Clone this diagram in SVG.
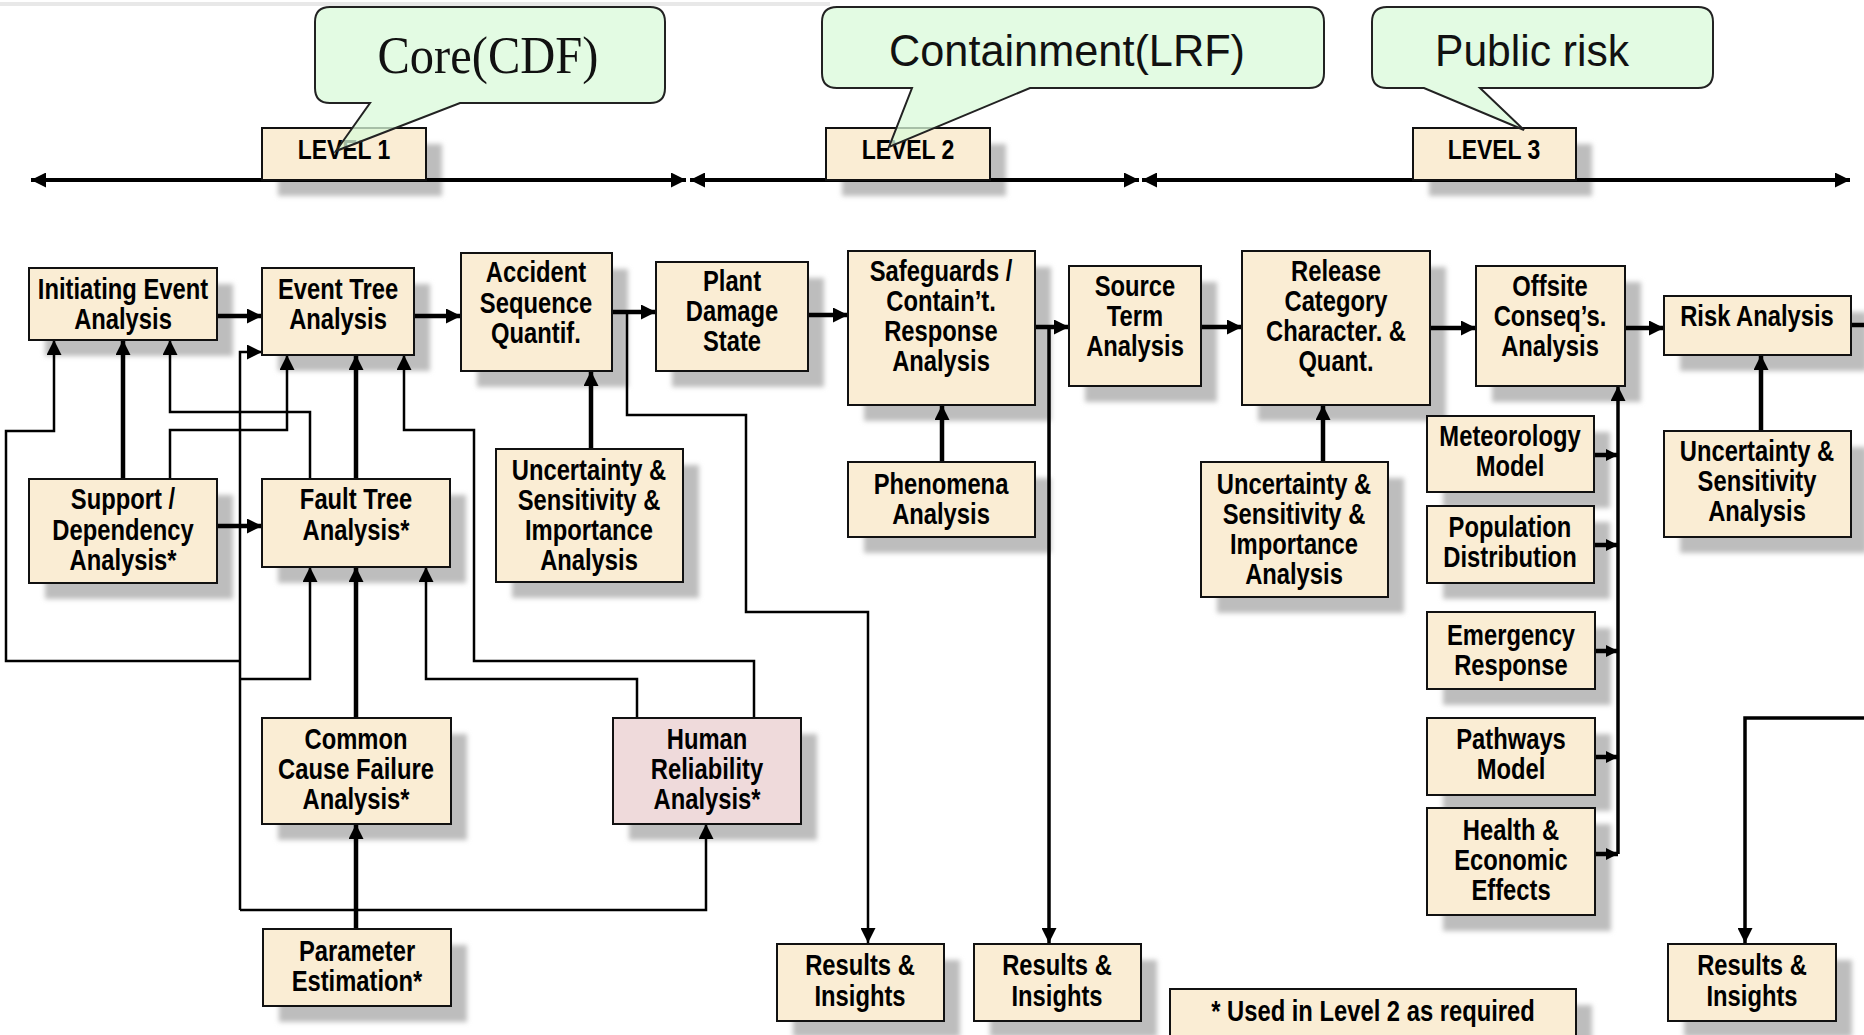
<svg xmlns="http://www.w3.org/2000/svg" width="1864" height="1035" viewBox="0 0 1864 1035">
<defs>
<filter id="blur" x="-10%" y="-10%" width="120%" height="120%"><feGaussianBlur stdDeviation="2.5"/></filter>
<marker id="ah" viewBox="0 0 10 10" refX="10" refY="5" markerUnits="userSpaceOnUse" markerWidth="15" markerHeight="15" orient="auto-start-reverse"><path d="M0,0 L10,5 L0,10 Z" fill="#000"/></marker>
<marker id="ahs" viewBox="0 0 10 10" refX="10" refY="5" markerUnits="userSpaceOnUse" markerWidth="12" markerHeight="13" orient="auto"><path d="M0,0 L10,5 L0,10 Z" fill="#000"/></marker>
</defs>
<style>
.box{fill:#faedd4;stroke:#111;stroke-width:2}
.hra{fill:#efdadb}
.sh{fill:#bdbdbd;filter:url(#blur)}
.t{font-family:'Liberation Sans',Arial,sans-serif;font-weight:bold;font-size:29px;fill:#000;text-anchor:middle}
.lv{font-size:28px}
.thick{fill:none;stroke:#000;stroke-width:4.5}
.med{fill:none;stroke:#000;stroke-width:3.5}
.thin{fill:none;stroke:#000;stroke-width:2.5}
.arr{marker-end:url(#ah)}
.arrs{marker-end:url(#ahs)}
.dbl{marker-start:url(#ah);marker-end:url(#ah)}
.call{fill:#d9f9d9;fill-opacity:0.75;stroke:#222;stroke-width:2}
.ct{font-family:'Liberation Sans',Arial,sans-serif;font-size:44px;fill:#111;text-anchor:middle}
.cs{font-family:'Liberation Serif','Times New Roman',serif;font-size:52px;fill:#111;text-anchor:middle}
</style>
<rect x="0" y="0" width="1864" height="1035" fill="#fff"/>
<line x1="0" y1="4" x2="830" y2="4" stroke="#e8e8e8" stroke-width="4"/>

<g id="shadows">
<rect class="sh" x="278" y="144" width="164" height="52"/>
<rect class="sh" x="842" y="144" width="164" height="52"/>
<rect class="sh" x="1429" y="144" width="163" height="52"/>
<rect class="sh" x="45" y="284" width="188" height="72"/>
<rect class="sh" x="278" y="284" width="152" height="87"/>
<rect class="sh" x="477" y="269" width="151" height="118"/>
<rect class="sh" x="672" y="278" width="152" height="109"/>
<rect class="sh" x="864" y="267" width="187" height="154"/>
<rect class="sh" x="1085" y="282" width="132" height="120"/>
<rect class="sh" x="1258" y="267" width="188" height="154"/>
<rect class="sh" x="1492" y="282" width="149" height="120"/>
<rect class="sh" x="1680" y="312" width="187" height="59"/>
<rect class="sh" x="45" y="495" width="188" height="104"/>
<rect class="sh" x="278" y="495" width="188" height="88"/>
<rect class="sh" x="512" y="465" width="187" height="133"/>
<rect class="sh" x="864" y="478" width="187" height="75"/>
<rect class="sh" x="1217" y="478" width="187" height="135"/>
<rect class="sh" x="1443" y="432" width="167" height="76"/>
<rect class="sh" x="1443" y="522" width="167" height="77"/>
<rect class="sh" x="1443" y="628" width="168" height="77"/>
<rect class="sh" x="1443" y="734" width="168" height="77"/>
<rect class="sh" x="1443" y="824" width="168" height="107"/>
<rect class="sh" x="1680" y="447" width="187" height="106"/>
<rect class="sh" x="278" y="734" width="189" height="106"/>
<rect class="sh" x="629" y="734" width="188" height="106"/>
<rect class="sh" x="279" y="945" width="188" height="77"/>
<rect class="sh" x="793" y="960" width="167" height="77"/>
<rect class="sh" x="990" y="960" width="167" height="77"/>
<rect class="sh" x="1684" y="960" width="168" height="77"/>
<rect class="sh" x="1186" y="1005" width="406" height="50"/>
</g>

<g id="connectors">
<line class="dbl" x1="31" y1="180" x2="686" y2="180" stroke="#000" stroke-width="4"/>
<line class="dbl" x1="690" y1="180" x2="1139" y2="180" stroke="#000" stroke-width="4"/>
<line class="dbl" x1="1142" y1="180" x2="1850" y2="180" stroke="#000" stroke-width="4"/>

<path class="thick arr" d="M217,316 H262"/>
<path class="thick arr" d="M414,316 H461"/>
<path class="thick arr" d="M612,312 H656"/>
<path class="thick arr" d="M808,315 H848"/>
<path class="thick arr" d="M1035,327 H1069"/>
<path class="thick arr" d="M1201,327 H1242"/>
<path class="thick arr" d="M1430,328 H1476"/>
<path class="thick arr" d="M1625,328 H1664"/>
<path class="thick" d="M1851,325 H1864"/>
<path class="thick arr" d="M123,479 V340"/>
<path class="thick arr" d="M217,526 H262"/>
<path class="thick arr" d="M356,479 V355"/>
<path class="thick arr" d="M356,718 V567"/>
<path class="thick arr" d="M356,929 V824"/>
<path class="thick arr" d="M591,449 V371"/>
<path class="thick arr" d="M942,462 V405"/>
<path class="thick arr" d="M1323,462 V405"/>
<path class="thick arr" d="M1761,431 V355"/>

<path class="thin arr" d="M240,661 H6 V431 H54 V340"/>
<path class="thin arr" d="M310,479 V412 H170 V340"/>
<path class="thin arr" d="M170,479 V430 H287 V355"/>
<path class="thin arr" d="M754,718 V661 H474 V430 H404 V355"/>
<path class="thin arr" d="M240,910 V352 H262"/>
<path class="thin arr" d="M240,679 H310 V567"/>
<path class="thin arr" d="M240,910 H706 V824"/>
<path class="thin arr" d="M637,718 V679 H426 V567"/>
<path class="thin arr" d="M627,312 V415 H746 V612 H868 V943"/>
<path class="med arr" d="M1049,327 V943"/>
<path class="med arr" d="M1618,854 V386"/>
<path class="thick arrs" d="M1594,455 H1618"/>
<path class="thick arrs" d="M1594,545 H1618"/>
<path class="thick arrs" d="M1595,651 H1618"/>
<path class="thick arrs" d="M1595,757 H1618"/>
<path class="thick arrs" d="M1595,854 H1618"/>
<path class="med arr" d="M1864,718 H1745 V943"/>
</g>

<g id="level1"><rect class="box" x="262" y="128" width="164" height="52"/><text class="t lv" transform="matrix(.82 0 0 1 344 0)" x="0" y="159">LEVEL 1</text></g>
<g id="level2"><rect class="box" x="826" y="128" width="164" height="52"/><text class="t lv" transform="matrix(.82 0 0 1 908 0)" x="0" y="159">LEVEL 2</text></g>
<g id="level3"><rect class="box" x="1413" y="128" width="163" height="52"/><text class="t lv" transform="matrix(.82 0 0 1 1494 0)" x="0" y="159">LEVEL 3</text></g>

<g id="callout-core"><path class="call" d="M330,7 H650 Q665,7 665,22 V88 Q665,103 650,103 H460 L336,151 L370,103 H330 Q315,103 315,88 V22 Q315,7 330,7 Z"/><text class="cs" x="488" y="73" textLength="221" lengthAdjust="spacingAndGlyphs">Core(CDF)</text></g>
<g id="callout-containment"><path class="call" d="M837,7 H1309 Q1324,7 1324,22 V73 Q1324,88 1309,88 H1030 L889,147 L912,88 H837 Q822,88 822,73 V22 Q822,7 837,7 Z"/><text class="ct" x="1067" y="66" textLength="356" lengthAdjust="spacingAndGlyphs">Containment(LRF)</text></g>
<g id="callout-public"><path class="call" d="M1387,7 H1698 Q1713,7 1713,22 V73 Q1713,88 1698,88 H1480 L1524,130 L1424,88 H1387 Q1372,88 1372,73 V22 Q1372,7 1387,7 Z"/><text class="ct" x="1532" y="66" textLength="194" lengthAdjust="spacingAndGlyphs">Public risk</text></g>

<g id="n-ie"><rect class="box" x="29" y="268" width="188" height="72"/><text class="t" transform="matrix(.82 0 0 1 123 0)"><tspan x="0" y="299">Initiating Event</tspan><tspan x="0" y="329">Analysis</tspan></text></g>
<g id="n-et"><rect class="box" x="262" y="268" width="152" height="87"/><text class="t" transform="matrix(.82 0 0 1 338 0)"><tspan x="0" y="299">Event Tree</tspan><tspan x="0" y="329">Analysis</tspan></text></g>
<g id="n-as"><rect class="box" x="461" y="253" width="151" height="118"/><text class="t" transform="matrix(.82 0 0 1 536 0)"><tspan x="0" y="282">Accident</tspan><tspan x="0" y="313">Sequence</tspan><tspan x="0" y="343">Quantif.</tspan></text></g>
<g id="n-pds"><rect class="box" x="656" y="262" width="152" height="109"/><text class="t" transform="matrix(.82 0 0 1 732 0)"><tspan x="0" y="291">Plant</tspan><tspan x="0" y="321">Damage</tspan><tspan x="0" y="351">State</tspan></text></g>
<g id="n-sg"><rect class="box" x="848" y="251" width="187" height="154"/><text class="t" transform="matrix(.82 0 0 1 941 0)"><tspan x="0" y="281">Safeguards /</tspan><tspan x="0" y="311">Contain’t.</tspan><tspan x="0" y="341">Response</tspan><tspan x="0" y="371">Analysis</tspan></text></g>
<g id="n-st"><rect class="box" x="1069" y="266" width="132" height="120"/><text class="t" transform="matrix(.82 0 0 1 1135 0)"><tspan x="0" y="296">Source</tspan><tspan x="0" y="326">Term</tspan><tspan x="0" y="356">Analysis</tspan></text></g>
<g id="n-rc"><rect class="box" x="1242" y="251" width="188" height="154"/><text class="t" transform="matrix(.82 0 0 1 1336 0)"><tspan x="0" y="281">Release</tspan><tspan x="0" y="311">Category</tspan><tspan x="0" y="341">Character. &amp;</tspan><tspan x="0" y="371">Quant.</tspan></text></g>
<g id="n-oc"><rect class="box" x="1476" y="266" width="149" height="120"/><text class="t" transform="matrix(.82 0 0 1 1550 0)"><tspan x="0" y="296">Offsite</tspan><tspan x="0" y="326">Conseq’s.</tspan><tspan x="0" y="356">Analysis</tspan></text></g>
<g id="n-ra"><rect class="box" x="1664" y="296" width="187" height="59"/><text class="t" transform="matrix(.82 0 0 1 1757 0)" x="0" y="326">Risk Analysis</text></g>
<g id="n-sd"><rect class="box" x="29" y="479" width="188" height="104"/><text class="t" transform="matrix(.82 0 0 1 123 0)"><tspan x="0" y="509">Support /</tspan><tspan x="0" y="540">Dependency</tspan><tspan x="0" y="570">Analysis*</tspan></text></g>
<g id="n-ft"><rect class="box" x="262" y="479" width="188" height="88"/><text class="t" transform="matrix(.82 0 0 1 356 0)"><tspan x="0" y="509">Fault Tree</tspan><tspan x="0" y="540">Analysis*</tspan></text></g>
<g id="n-asu"><rect class="box" x="496" y="449" width="187" height="133"/><text class="t" transform="matrix(.82 0 0 1 589 0)"><tspan x="0" y="480">Uncertainty &amp;</tspan><tspan x="0" y="510">Sensitivity  &amp;</tspan><tspan x="0" y="540">Importance</tspan><tspan x="0" y="570">Analysis</tspan></text></g>
<g id="n-ph"><rect class="box" x="848" y="462" width="187" height="75"/><text class="t" transform="matrix(.82 0 0 1 941 0)"><tspan x="0" y="494">Phenomena</tspan><tspan x="0" y="524">Analysis</tspan></text></g>
<g id="n-rcu"><rect class="box" x="1201" y="462" width="187" height="135"/><text class="t" transform="matrix(.82 0 0 1 1294 0)"><tspan x="0" y="494">Uncertainty &amp;</tspan><tspan x="0" y="524">Sensitivity  &amp;</tspan><tspan x="0" y="554">Importance</tspan><tspan x="0" y="584">Analysis</tspan></text></g>
<g id="n-met"><rect class="box" x="1427" y="416" width="167" height="76"/><text class="t" transform="matrix(.82 0 0 1 1510 0)"><tspan x="0" y="446">Meteorology</tspan><tspan x="0" y="476">Model</tspan></text></g>
<g id="n-pop"><rect class="box" x="1427" y="506" width="167" height="77"/><text class="t" transform="matrix(.82 0 0 1 1510 0)"><tspan x="0" y="537">Population</tspan><tspan x="0" y="567">Distribution</tspan></text></g>
<g id="n-emr"><rect class="box" x="1427" y="612" width="168" height="77"/><text class="t" transform="matrix(.82 0 0 1 1511 0)"><tspan x="0" y="645">Emergency</tspan><tspan x="0" y="675">Response</tspan></text></g>
<g id="n-path"><rect class="box" x="1427" y="718" width="168" height="77"/><text class="t" transform="matrix(.82 0 0 1 1511 0)"><tspan x="0" y="749">Pathways</tspan><tspan x="0" y="779">Model</tspan></text></g>
<g id="n-hee"><rect class="box" x="1427" y="808" width="168" height="107"/><text class="t" transform="matrix(.82 0 0 1 1511 0)"><tspan x="0" y="840">Health &amp;</tspan><tspan x="0" y="870">Economic</tspan><tspan x="0" y="900">Effects</tspan></text></g>
<g id="n-rau"><rect class="box" x="1664" y="431" width="187" height="106"/><text class="t" transform="matrix(.82 0 0 1 1757 0)"><tspan x="0" y="461">Uncertainty &amp;</tspan><tspan x="0" y="491">Sensitivity</tspan><tspan x="0" y="521">Analysis</tspan></text></g>
<g id="n-ccf"><rect class="box" x="262" y="718" width="189" height="106"/><text class="t" transform="matrix(.82 0 0 1 356 0)"><tspan x="0" y="749">Common</tspan><tspan x="0" y="779">Cause Failure</tspan><tspan x="0" y="809">Analysis*</tspan></text></g>
<g id="n-hra"><rect class="box hra" x="613" y="718" width="188" height="106"/><text class="t" transform="matrix(.82 0 0 1 707 0)"><tspan x="0" y="749">Human</tspan><tspan x="0" y="779">Reliability</tspan><tspan x="0" y="809">Analysis*</tspan></text></g>
<g id="n-pe"><rect class="box" x="263" y="929" width="188" height="77"/><text class="t" transform="matrix(.82 0 0 1 357 0)"><tspan x="0" y="961">Parameter</tspan><tspan x="0" y="991">Estimation*</tspan></text></g>
<g id="n-ri1"><rect class="box" x="777" y="944" width="167" height="77"/><text class="t" transform="matrix(.82 0 0 1 860 0)"><tspan x="0" y="975">Results &amp;</tspan><tspan x="0" y="1006">Insights</tspan></text></g>
<g id="n-ri2"><rect class="box" x="974" y="944" width="167" height="77"/><text class="t" transform="matrix(.82 0 0 1 1057 0)"><tspan x="0" y="975">Results &amp;</tspan><tspan x="0" y="1006">Insights</tspan></text></g>
<g id="n-ri3"><rect class="box" x="1668" y="944" width="168" height="77"/><text class="t" transform="matrix(.82 0 0 1 1752 0)"><tspan x="0" y="975">Results &amp;</tspan><tspan x="0" y="1006">Insights</tspan></text></g>
<g id="n-note"><rect class="box" x="1170" y="989" width="406" height="60"/><text class="t" transform="matrix(.82 0 0 1 1373 0)" x="0" y="1021">* Used in Level 2 as required</text></g>
</svg>
